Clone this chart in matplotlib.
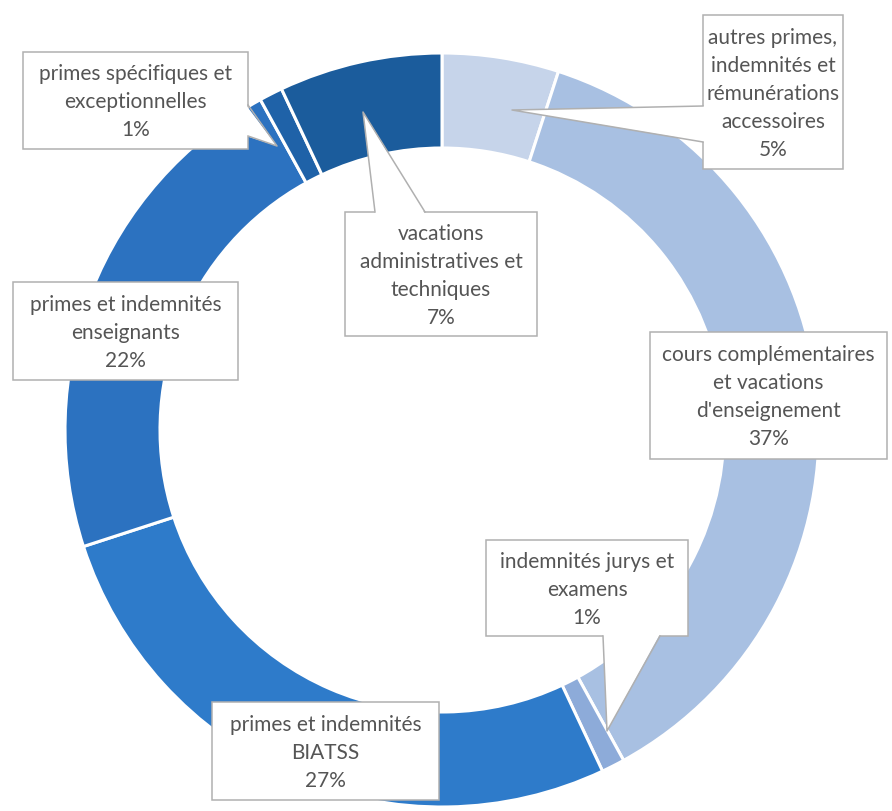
import matplotlib.pyplot as plt
from matplotlib.patches import Rectangle, Polygon

# Slice data, clockwise from 12 o'clock
categories = [
    "autres primes,\nindemnités et\nrémunérations\naccessoires",
    "cours complémentaires\net vacations\nd'enseignement",
    "indemnités jurys et\nexamens",
    "primes et indemnités\nBIATSS",
    "primes et indemnités\nenseignants",
    "primes spécifiques et\nexceptionnelles",
    "vacations\nadministratives et\ntechniques",
]
shares = [5, 37, 1, 27, 22, 1, 7]
colors = ["#c6d4ea", "#a8c0e2", "#8dabd9", "#2e7bca", "#2c72c0", "#1f62a8", "#1b5c9c"]

# Label boxes in pixel coords: (x0, y0, x1, y1) and optional callout (base1, base2, tip)
boxes = [
    (703, 16, 843, 170),
    (650, 333, 887, 460),
    (486, 541, 688, 637),
    (212, 703, 439, 801),
    (13, 283, 238, 381),
    (23, 53, 248, 150),
    (345, 213, 537, 337),
]
callouts = [
    ((703, 107), (703, 143), (512, 111)),
    None,
    ((603, 637), (660, 637), (607, 732)),
    None,
    None,
    ((248, 106), (248, 137), (277, 147)),
    ((375, 213), (425, 213), (363, 113)),
]

W, H = 892, 812
fig = plt.figure(figsize=(W / 100, H / 100), dpi=100)
ax = fig.add_axes([0, 0, 1, 1])

# y axis is inverted below, so startangle=-90 + counterclock gives top / clockwise on screen
ax.pie(shares, colors=colors, center=(442, 431), radius=377, startangle=-90,
       counterclock=True,
       wedgeprops=dict(width=95, edgecolor="white", linewidth=2.2))

ax.set_xlim(0, W)
ax.set_ylim(H, 0)
ax.set_aspect("auto")
ax.axis("off")

edge = "#b0b0b0"
for name, val, (x0, y0, x1, y1), co in zip(categories, shares, boxes, callouts):
    ax.add_patch(Rectangle((x0, y0), x1 - x0, y1 - y0, facecolor="white",
                           edgecolor=edge, linewidth=1.1, zorder=3))
    if co is not None:
        b1, b2, tip = co
        # nudge the base inward so the white fill hides the box border there
        def inward(p):
            dx = 2 if p[0] <= x0 + 0.5 else (-2 if p[0] >= x1 - 0.5 else 0)
            dy = 2 if p[1] <= y0 + 0.5 else (-2 if p[1] >= y1 - 0.5 else 0)
            return (p[0] + dx, p[1] + dy)
        ax.add_patch(Polygon([inward(b1), inward(b2), tip], closed=True,
                             facecolor="white", edgecolor="none", zorder=4))
        ax.plot([b1[0], tip[0], b2[0]], [b1[1], tip[1], b2[1]],
                color=edge, linewidth=1.1, zorder=5)
    ax.text((x0 + x1) / 2, (y0 + y1) / 2 + 1, f"{name}\n{val}%", ha="center", va="center",
            fontsize=15, family="Lato", color="#555555", linespacing=1.5, zorder=6)

plt.savefig("out.png", dpi=100)
